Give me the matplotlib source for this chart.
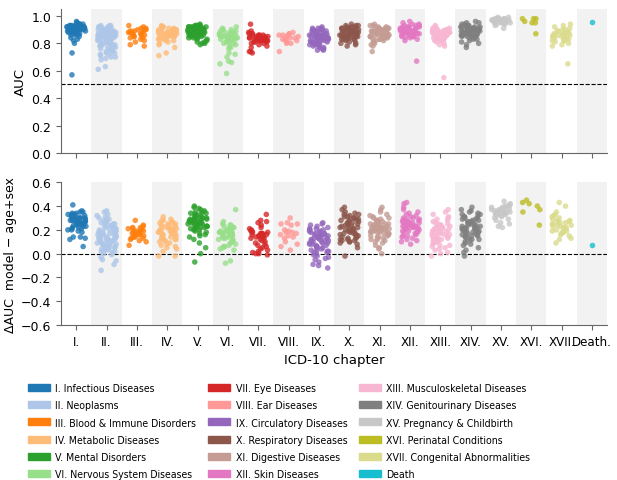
import numpy as np
import pandas as pd
import matplotlib
matplotlib.use("Agg")
import matplotlib.pyplot as plt
from matplotlib.patches import Patch
import seaborn as sns

chapters = ["I.", "II.", "III.", "IV.", "V.", "VI.", "VII.", "VIII.", "IX.",
            "X.", "XI.", "XII.", "XIII.", "XIV.", "XV.", "XVI.", "XVII.", "Death."]
legend_names = ["I. Infectious Diseases", "II. Neoplasms", "III. Blood & Immune Disorders",
                "IV. Metabolic Diseases", "V. Mental Disorders", "VI. Nervous System Diseases",
                "VII. Eye Diseases", "VIII. Ear Diseases", "IX. Circulatory Diseases",
                "X. Respiratory Diseases", "XI. Digestive Diseases", "XII. Skin Diseases",
                "XIII. Musculoskeletal Diseases", "XIV. Genitourinary Diseases",
                "XV. Pregnancy & Childbirth", "XVI. Perinatal Conditions",
                "XVII. Congenital Abnormalities", "Death"]

# AUC per endpoint, by chapter
auc_01 = [0.95,0.94,0.93,0.96,0.92,0.91,0.90,0.93,0.89,0.88,0.92,0.91,0.90,0.89,0.94,0.93,0.92,0.90,0.88,0.87,
          0.91,0.90,0.89,0.93,0.95,0.92,0.88,0.86,0.90,0.91,0.89,0.87,0.92,0.94,0.90,0.88,0.85,0.83,0.82,0.84,
          0.80,0.86,0.89,0.91,0.93,0.90,0.87,0.73,0.57,0.92]
auc_02 = [0.93,0.92,0.91,0.92,0.90,0.89,0.93,0.91,0.88,0.87,0.90,0.86,0.85,0.92,0.89,0.84,0.83,0.91,0.88,0.86,
          0.82,0.81,0.80,0.87,0.85,0.84,0.90,0.79,0.78,0.83,0.82,0.86,0.88,0.77,0.76,0.81,0.80,0.79,0.85,0.84,
          0.75,0.74,0.78,0.83,0.82,0.73,0.72,0.80,0.77,0.76,0.71,0.70,0.74,0.86,0.89,0.91,0.87,0.81,0.79,0.75,
          0.73,0.69,0.68,0.72,0.85,0.88,0.90,0.92,0.84,0.82,0.78,0.76,0.93,0.87,0.83,0.80,0.70,0.63,0.61,0.86]
auc_03 = [0.93,0.91,0.90,0.92,0.89,0.88,0.87,0.86,0.85,0.88,0.90,0.87,0.86,0.84,0.83,0.89,0.91,0.85,0.87,0.88,
          0.86,0.81,0.78,0.79,0.82,0.84,0.90,0.89]
auc_04 = [0.93,0.92,0.91,0.90,0.89,0.88,0.87,0.86,0.85,0.84,0.92,0.90,0.88,0.86,0.83,0.82,0.81,0.80,0.89,0.87,
          0.85,0.91,0.88,0.86,0.84,0.90,0.87,0.85,0.83,0.89,0.86,0.92,0.88,0.84,0.87,0.85,0.82,0.90,0.86,0.88,
          0.77,0.73,0.71,0.79,0.85,0.87,0.89,0.84,0.86,0.91]
auc_05 = [0.94,0.93,0.93,0.92,0.92,0.91,0.91,0.90,0.90,0.89,0.89,0.88,0.88,0.87,0.87,0.86,0.86,0.85,0.85,0.84,
          0.93,0.92,0.91,0.90,0.89,0.88,0.87,0.86,0.92,0.91,0.90,0.89,0.88,0.93,0.92,0.91,0.90,0.89,0.87,0.86,
          0.84,0.83,0.82,0.81,0.80,0.79,0.83,0.81,0.85,0.90,0.92,0.88,0.91,0.89,0.87,0.93,0.90,0.86,0.84,0.80]
auc_06 = [0.92,0.91,0.90,0.89,0.88,0.87,0.86,0.85,0.84,0.83,0.82,0.81,0.80,0.79,0.90,0.88,0.86,0.85,0.84,0.83,
          0.82,0.81,0.89,0.87,0.85,0.84,0.83,0.86,0.88,0.85,0.82,0.80,0.84,0.86,0.87,0.78,0.77,0.76,0.73,0.72,
          0.70,0.67,0.66,0.65,0.58]
auc_07 = [0.94,0.89,0.88,0.87,0.86,0.86,0.85,0.85,0.84,0.84,0.83,0.83,0.82,0.82,0.81,0.81,0.80,0.80,0.79,0.85,
          0.84,0.83,0.82,0.87,0.86,0.84,0.83,0.85,0.82,0.81,0.86,0.84,0.83,0.85,0.82,0.78,0.77,0.74,0.74,0.73]
auc_08 = [0.88,0.87,0.87,0.86,0.86,0.85,0.85,0.84,0.84,0.83,0.82,0.81,0.80,0.86,0.83,0.82,0.80,0.74]
auc_09 = [0.92,0.91,0.91,0.90,0.90,0.89,0.89,0.88,0.88,0.87,0.87,0.86,0.86,0.85,0.85,0.84,0.84,0.83,0.83,0.82,
          0.82,0.81,0.81,0.80,0.80,0.79,0.79,0.78,0.78,0.77,0.76,0.76,0.75,0.75,0.91,0.89,0.87,0.85,0.83,0.81,
          0.90,0.88,0.86,0.84,0.82,0.80,0.87,0.85,0.83,0.89,0.86,0.84,0.81,0.79,0.77,0.88,0.85,0.82,0.90,0.86]
auc_10 = [0.94,0.93,0.93,0.92,0.92,0.91,0.91,0.90,0.90,0.89,0.89,0.88,0.88,0.87,0.87,0.86,0.86,0.85,0.85,0.84,
          0.84,0.83,0.83,0.82,0.81,0.80,0.79,0.78,0.91,0.89,0.87,0.85,0.90,0.88,0.86,0.84,0.92,0.87,0.85,0.83,
          0.89,0.86,0.88,0.90,0.84,0.82,0.86,0.88,0.91,0.87,0.85,0.89,0.93,0.80,0.83]
auc_11 = [0.94,0.93,0.93,0.92,0.92,0.91,0.91,0.90,0.90,0.90,0.89,0.89,0.89,0.88,0.88,0.88,0.87,0.87,0.87,0.86,
          0.86,0.86,0.85,0.85,0.85,0.84,0.84,0.83,0.83,0.82,0.81,0.80,0.79,0.78,0.74,0.92,0.90,0.88,0.86,0.84,
          0.91,0.89,0.87,0.85,0.83,0.90,0.88,0.86,0.89,0.87,0.85,0.91,0.88,0.86,0.84,0.82,0.87,0.89,0.90,0.86]
auc_12 = [0.96,0.95,0.94,0.93,0.93,0.92,0.92,0.91,0.91,0.90,0.90,0.89,0.89,0.88,0.88,0.87,0.87,0.86,0.86,0.85,
          0.85,0.84,0.83,0.82,0.67,0.92,0.90,0.88,0.86,0.91,0.89,0.87,0.93,0.90,0.88,0.89,0.91,0.87,0.85,0.90,
          0.88,0.92,0.89,0.86,0.84,0.90,0.88,0.91,0.87,0.89,0.94,0.85,0.86,0.90,0.88]
auc_13 = [0.93,0.92,0.91,0.91,0.90,0.90,0.89,0.89,0.88,0.88,0.87,0.87,0.86,0.86,0.85,0.85,0.84,0.84,0.83,0.83,
          0.82,0.81,0.80,0.79,0.78,0.55,0.90,0.88,0.86,0.84,0.82,0.89,0.87,0.85,0.83,0.91,0.88,0.86,0.84,0.87,
          0.85,0.89,0.86,0.90,0.87,0.85,0.83,0.88,0.86,0.84,0.89,0.87,0.85,0.86,0.88]
auc_14 = [0.96,0.95,0.95,0.94,0.93,0.93,0.92,0.92,0.91,0.91,0.90,0.90,0.89,0.89,0.88,0.88,0.87,0.87,0.86,0.86,
          0.85,0.85,0.84,0.83,0.82,0.81,0.80,0.79,0.77,0.94,0.92,0.90,0.88,0.86,0.91,0.89,0.87,0.93,0.90,0.88,
          0.86,0.84,0.92,0.89,0.87,0.85,0.91,0.88,0.90,0.86,0.83,0.89,0.87,0.92,0.88,0.90,0.85,0.89,0.87,0.91]
auc_15 = [0.99,0.99,0.98,0.98,0.98,0.98,0.97,0.97,0.97,0.97,0.97,0.96,0.96,0.96,0.96,0.96,0.95,0.95,0.95,0.95,
          0.94,0.94,0.93,0.91,0.98,0.97,0.96,0.95,0.97,0.96,0.98,0.97,0.96,0.95,0.97]
auc_16 = [0.98,0.96,0.95,0.95,0.98,0.98,0.87]
auc_17 = [0.94,0.93,0.92,0.91,0.90,0.89,0.88,0.88,0.87,0.87,0.86,0.86,0.85,0.85,0.84,0.84,0.83,0.83,0.82,0.82,
          0.81,0.80,0.79,0.78,0.65,0.90,0.87,0.85,0.83,0.86,0.88,0.84,0.89,0.86,0.82]
auc_18 = [0.955]

# delta AUC (model - age+sex), by chapter
delta_01 = [0.41,0.35,0.33,0.34,0.32,0.30,0.29,0.31,0.28,0.27,0.33,0.36,0.30,0.26,0.25,0.24,0.22,0.20,0.28,0.29,
            0.31,0.27,0.23,0.21,0.19,0.26,0.30,0.32,0.35,0.24,0.22,0.25,0.28,0.30,0.33,0.27,0.20,0.18,0.14,0.13,
            0.12,0.14,0.06,0.23,0.26,0.29,0.31,0.25,0.21,0.34]
delta_02 = [0.36,0.05,0.33,0.18,0.30,-0.01,0.28,0.12,0.26,0.09,0.24,0.35,0.22,0.03,0.20,0.15,0.18,0.32,0.16,0.07,
            0.14,0.27,0.12,0.00,0.10,0.25,0.08,0.19,0.06,0.29,0.04,0.11,0.02,0.23,-0.03,0.17,-0.05,0.21,-0.06,0.13,
            -0.14,0.31,-0.09,0.24,0.22,0.20,0.01,0.16,0.14,0.12,0.10,0.08,0.06,0.04,0.02,0.25,0.21,0.17,0.13,0.09,
            0.05,0.19,0.15,0.11,0.07,0.03,0.23,0.26,0.18,0.12,0.28,0.16,0.10,0.14,0.20,0.08,0.17,0.22,0.13,0.06]
delta_03 = [0.28,0.24,0.23,0.22,0.21,0.20,0.19,0.18,0.17,0.16,0.15,0.14,0.13,0.12,0.11,0.10,0.07,0.18,0.16,0.20,
            0.14,0.17,0.22,0.19,0.15,0.13,0.21,0.18]
delta_04 = [0.31,0.29,0.28,0.27,0.26,0.25,0.24,0.23,0.22,0.21,0.20,0.19,0.18,0.17,0.16,0.15,0.14,0.13,0.12,0.11,
            0.10,0.09,0.08,0.07,0.06,0.05,0.04,0.02,-0.02,-0.02,0.28,0.25,0.22,0.20,0.18,0.16,0.14,0.12,0.19,0.23,
            0.17,0.21,0.15,0.26,0.13,0.24,0.11,0.18,0.20,0.16]
delta_05 = [0.40,0.39,0.38,0.37,0.36,0.35,0.34,0.33,0.32,0.31,0.30,0.30,0.29,0.29,0.28,0.28,0.27,0.27,0.26,0.26,
            0.25,0.25,0.24,0.24,0.23,0.23,0.22,0.22,0.21,0.20,0.19,0.18,0.17,0.16,0.15,0.14,0.12,0.09,0.05,0.00,
            -0.07,0.31,0.33,0.29,0.27,0.25,0.23,0.34,0.32,0.30,0.28,0.26,0.24,0.22,0.20,0.35,0.31,0.29,0.27,0.21]
delta_06 = [0.37,0.27,0.25,0.24,0.23,0.22,0.21,0.20,0.20,0.19,0.19,0.18,0.18,0.17,0.17,0.16,0.16,0.15,0.15,0.14,
            0.13,0.12,0.11,0.10,0.09,0.08,0.07,0.06,0.05,0.04,0.24,0.22,0.21,0.19,0.17,0.15,0.13,0.21,0.18,0.16,
            0.12,0.06,0.03,-0.06,-0.08]
delta_07 = [0.33,0.28,0.27,0.26,0.24,0.22,0.21,0.20,0.19,0.18,0.18,0.17,0.17,0.16,0.16,0.15,0.15,0.14,0.14,0.13,
            0.12,0.11,0.10,0.09,0.08,0.07,0.06,0.05,0.04,0.03,0.02,0.01,0.00,0.00,-0.01,0.19,0.17,0.15,0.13,0.16]
delta_08 = [0.30,0.26,0.25,0.25,0.24,0.20,0.19,0.18,0.18,0.17,0.16,0.15,0.14,0.13,0.10,0.08,0.06,0.03]
delta_09 = [0.26,0.25,0.24,0.22,0.21,0.20,0.19,0.18,0.17,0.16,0.15,0.14,0.13,0.12,0.11,0.10,0.09,0.08,0.07,0.06,
            0.05,0.04,0.03,0.02,0.01,0.00,-0.01,-0.02,-0.03,-0.05,-0.07,-0.09,-0.10,-0.12,0.23,0.19,0.15,0.11,0.07,0.03,
            0.21,0.17,0.13,0.09,0.05,0.01,0.18,0.14,0.10,0.06,0.16,0.12,0.08,0.02,-0.04,0.20,0.13,0.09,0.15,0.11]
delta_10 = [0.39,0.37,0.35,0.34,0.33,0.32,0.31,0.30,0.29,0.28,0.27,0.26,0.25,0.24,0.23,0.22,0.21,0.20,0.19,0.18,
            0.17,0.16,0.15,0.14,0.13,0.12,0.11,0.10,0.09,0.08,0.05,-0.02,0.30,0.28,0.26,0.24,0.22,0.20,0.18,0.16,
            0.14,0.12,0.10,0.29,0.25,0.21,0.17,0.13,0.23,0.19,0.15,0.11,0.27,0.31,0.33]
delta_11 = [0.39,0.37,0.35,0.33,0.32,0.31,0.30,0.29,0.28,0.27,0.26,0.25,0.25,0.24,0.24,0.23,0.23,0.22,0.22,0.21,
            0.21,0.20,0.20,0.19,0.19,0.18,0.18,0.17,0.16,0.15,0.14,0.13,0.12,0.11,0.10,0.09,0.07,0.05,0.04,0.00,
            0.26,0.24,0.22,0.20,0.18,0.16,0.14,0.12,0.28,0.25,0.23,0.21,0.19,0.17,0.15,0.30,0.27,0.21,0.19,0.17]
delta_12 = [0.43,0.42,0.39,0.37,0.35,0.34,0.33,0.32,0.31,0.30,0.29,0.28,0.28,0.27,0.27,0.26,0.26,0.25,0.25,0.24,
            0.24,0.23,0.23,0.22,0.22,0.21,0.20,0.19,0.18,0.17,0.16,0.15,0.14,0.13,0.12,0.11,0.10,0.08,0.30,0.28,
            0.26,0.24,0.22,0.20,0.18,0.27,0.25,0.23,0.21,0.19,0.29,0.26,0.24,0.22,0.15]
delta_13 = [0.37,0.35,0.33,0.31,0.30,0.29,0.28,0.27,0.26,0.25,0.24,0.23,0.22,0.21,0.20,0.19,0.18,0.17,0.16,0.15,
            0.14,0.13,0.12,0.11,0.10,0.09,0.08,0.07,0.06,0.05,0.04,0.03,0.01,0.00,-0.02,0.25,0.22,0.19,0.16,0.13,
            0.10,0.07,0.23,0.20,0.17,0.14,0.11,0.21,0.18,0.15,0.12,0.24,0.19,0.16,0.13]
delta_14 = [0.39,0.37,0.36,0.35,0.34,0.33,0.32,0.31,0.30,0.29,0.28,0.27,0.26,0.25,0.24,0.23,0.22,0.21,0.20,0.19,
            0.18,0.17,0.16,0.15,0.14,0.13,0.12,0.11,0.10,0.09,0.08,0.07,0.05,0.03,0.01,-0.02,0.30,0.28,0.26,0.24,
            0.22,0.20,0.18,0.16,0.14,0.12,0.27,0.25,0.23,0.21,0.19,0.17,0.15,0.29,0.26,0.22,0.18,0.33,0.31,0.21]
delta_15 = [0.44,0.42,0.41,0.40,0.40,0.39,0.39,0.38,0.38,0.37,0.37,0.36,0.36,0.35,0.35,0.34,0.34,0.33,0.33,0.32,
            0.31,0.30,0.29,0.28,0.26,0.25,0.23,0.22,0.38,0.36,0.34,0.32,0.35,0.37,0.33]
delta_16 = [0.45,0.42,0.37,0.35,0.24,0.43,0.40]
delta_17 = [0.43,0.40,0.35,0.33,0.32,0.31,0.30,0.29,0.28,0.27,0.26,0.26,0.25,0.25,0.24,0.23,0.22,0.21,0.20,0.19,
            0.18,0.17,0.16,0.15,0.13,0.12,0.09,0.28,0.24,0.22,0.20,0.18,0.27,0.23,0.19]
delta_18 = [0.077]

auc_all = [auc_01, auc_02, auc_03, auc_04, auc_05, auc_06, auc_07, auc_08, auc_09,
           auc_10, auc_11, auc_12, auc_13, auc_14, auc_15, auc_16, auc_17, auc_18]
delta_all = [delta_01, delta_02, delta_03, delta_04, delta_05, delta_06, delta_07, delta_08, delta_09,
             delta_10, delta_11, delta_12, delta_13, delta_14, delta_15, delta_16, delta_17, delta_18]

df_auc = pd.DataFrame([(c, v) for c, vals in zip(chapters, auc_all) for v in vals], columns=["chapter", "value"])
df_delta = pd.DataFrame([(c, v) for c, vals in zip(chapters, delta_all) for v in vals], columns=["chapter", "value"])

# tab20 without the light purple
colors = [plt.cm.tab20(i) for i in list(range(9)) + list(range(10, 19))]
palette = dict(zip(chapters, colors))

np.random.seed(3)
fig = plt.figure(figsize=(6.17, 4.81), dpi=100)
ax1 = fig.add_axes([0.099, 0.680, 0.885, 0.299])
ax2 = fig.add_axes([0.099, 0.322, 0.885, 0.297])

for ax, df, lo, hi, ref in [(ax1, df_auc, 0.0, 1.05, 0.5), (ax2, df_delta, -0.6, 0.6, 0.0)]:
    for i in range(1, 18, 2):
        ax.axvspan(i - 0.5, i + 0.5, color="#f2f2f2", lw=0, zorder=0)
    sns.stripplot(data=df, x="chapter", y="value", hue="chapter", order=chapters,
                  palette=palette, jitter=0.32, size=4, alpha=0.8, linewidth=0,
                  legend=False, ax=ax, zorder=2)
    ax.axhline(ref, color="black", ls="--", lw=0.8, zorder=1)
    ax.set_xlim(-0.5, 17.5)
    ax.set_ylim(lo, hi)
    ax.spines["top"].set_visible(False)
    ax.spines["right"].set_visible(False)
    for s in ["left", "bottom"]:
        ax.spines[s].set_color("0.4")
    ax.tick_params(colors="0.4", labelcolor="black", labelsize=9)

ax1.set_yticks([0.0, 0.2, 0.4, 0.6, 0.8, 1.0])
ax1.set_xticklabels([])
ax1.set_xlabel("")
ax1.set_ylabel("AUC", fontsize=9.5, labelpad=3)
ax2.set_yticks([-0.6, -0.4, -0.2, 0.0, 0.2, 0.4, 0.6])
ax2.set_xticks(range(18))
ax2.set_xticklabels(chapters, fontsize=8.6)
ax2.set_xlabel("ICD-10 chapter", fontsize=9.5)
ax2.set_ylabel("ΔAUC  model − age+sex", fontsize=9, labelpad=3)

handles = [Patch(color=c, label=n) for c, n in zip(colors, legend_names)]
fig.legend(handles=handles, ncol=3, loc="lower left", bbox_to_anchor=(0.03, -0.018),
           frameon=False, prop={"family": "DejaVu Sans", "stretch": "condensed", "size": 7.6},
           handlelength=2.1, handleheight=0.65, handletextpad=0.5,
           labelspacing=0.68, columnspacing=1.1)

fig.savefig("out.png", dpi=100)
